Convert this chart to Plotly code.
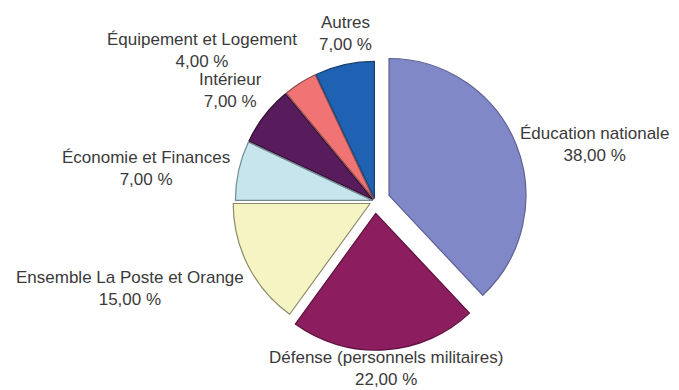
import plotly.graph_objects as go

W, H = 679, 390

categories = [
    "Éducation nationale",
    "Défense (personnels militaires)",
    "Ensemble La Poste et Orange",
    "Économie et Finances",
    "Intérieur",
    "Équipement et Logement",
    "Autres",
]
values = [38.0, 22.0, 15.0, 7.0, 7.0, 4.0, 7.0]

colors = ["#8088c8", "#8c1d5e", "#f7f4c4", "#c6e5ed", "#581c5c", "#f07474", "#1f62b4"]
line_colors = ["#5c6194", "#5e1240", "#8a8a6a", "#6f8a90", "#2e0e30", "#8a4a4a", "#1a3f70"]
pulls = [0.11, 0.09, 0.04, 0.02, 0.02, 0.02, 0.02]

# label placement (pixel centre x, centre y of the two-line block)
label_pos = [
    (594, 144),
    (386, 368),
    (130, 288),
    (146, 168),
    (230, 90),
    (202, 51),
    (345, 33),
]

cx, cy, box = 375, 201, 304

fig = go.Figure()
fig.add_trace(go.Pie(
    labels=categories,
    values=values,
    sort=False,
    direction="clockwise",
    rotation=0,
    pull=pulls,
    marker=dict(colors=colors, line=dict(color=line_colors, width=1.2)),
    textinfo="none",
    hoverinfo="label+percent",
    domain=dict(
        x=[(cx - box / 2) / W, (cx + box / 2) / W],
        y=[1 - (cy + box / 2) / H, 1 - (cy - box / 2) / H],
    ),
    showlegend=False,
))

font = dict(family="Liberation Sans, Arial, sans-serif", size=17, color="#3a3a3a")
for name, val, (px, py) in zip(categories, values, label_pos):
    val_txt = f"{val:.2f}".replace(".", ",") + " %"
    fig.add_annotation(x=px / W, y=1 - py / H, xref="paper", yref="paper",
                       text=f"{name}<br>{val_txt}", showarrow=False, font=font,
                       align="center", xanchor="center", yanchor="middle")

fig.update_layout(
    width=W, height=H,
    margin=dict(l=0, r=0, t=0, b=0),
    paper_bgcolor="white",
    plot_bgcolor="white",
)

fig.write_html("out.html")
